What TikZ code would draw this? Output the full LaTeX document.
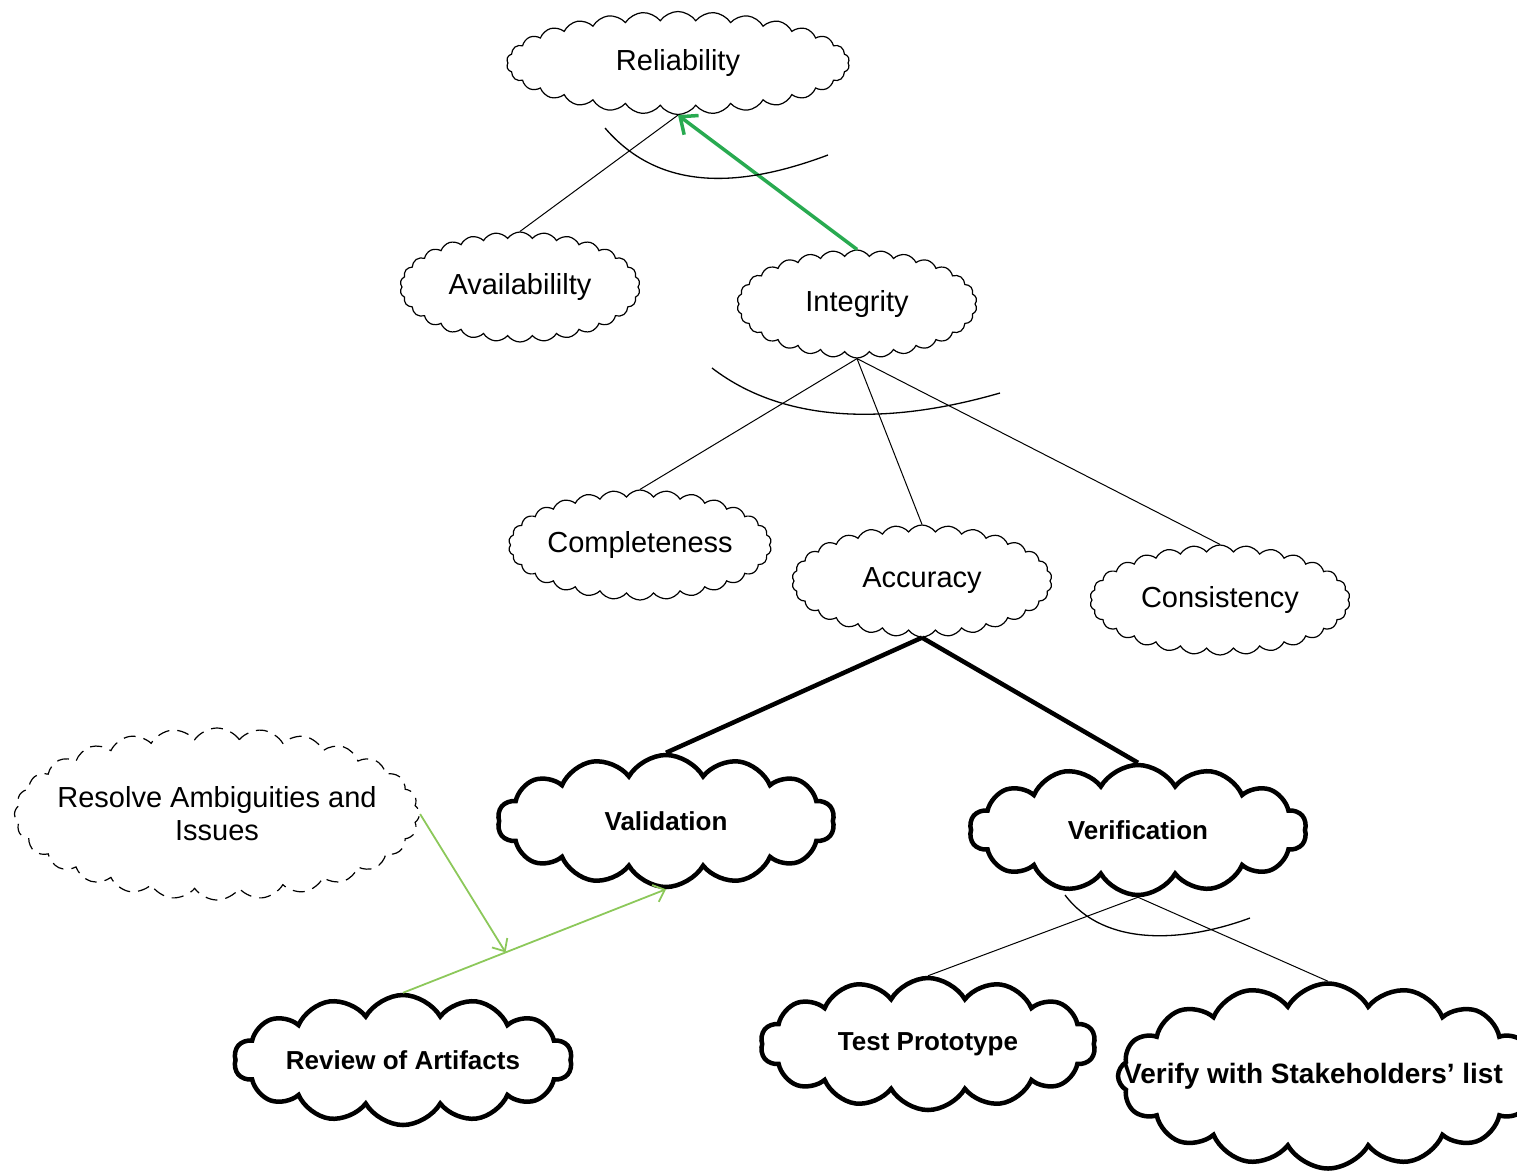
\documentclass[tikz,border=0pt]{standalone}
\usepackage{fontspec}
\setmainfont{Liberation Sans}
\usetikzlibrary{shapes.symbols,arrows.meta}

\definecolor{arrowgreen}{RGB}{40,170,80}
\definecolor{palegreen}{RGB}{140,200,90}

\begin{document}
\begin{tikzpicture}[x=1pt,y=-1pt,
  thincloud/.style={cloud, draw, cloud puffs=30, cloud puff arc=110, line width=1.2pt,
    cloud ignores aspect, inner sep=0pt, font=\fontsize{29}{33}\selectfont},
  boldcloud/.style={cloud, draw, cloud puffs=14, cloud puff arc=120, line width=4.5pt,
    cloud ignores aspect, inner sep=0pt, font=\bfseries\fontsize{26}{30}\selectfont},
  link/.style={draw, line width=1pt},
  andarc/.style={draw, line width=1.3pt}]
\useasboundingbox (0,0) rectangle (1517,1170);

% goal tree
\node[thincloud, minimum width=343, minimum height=103] (rel) at (678,63) {Reliability};
\node[thincloud, minimum width=240, minimum height=110] (avail) at (520,287) {Availabililty};
\node[thincloud, minimum width=240, minimum height=108] (integ) at (857,304) {Integrity};
\node[thincloud, minimum width=260, minimum height=110] (compl) at (640,545) {Completeness};
\node[thincloud, minimum width=260, minimum height=112] (accur) at (922,581) {Accuracy};
\node[thincloud, minimum width=260, minimum height=110] (consist) at (1220,600) {Consistency};

\node[boldcloud, minimum width=337, minimum height=132] (valid) at (666,821) {Validation};
\node[boldcloud, minimum width=337, minimum height=130] (verif) at (1138,830) {Verification};
\node[boldcloud, minimum width=338, minimum height=130] (review) at (403,1060) {Review of Artifacts};
\node[boldcloud, minimum width=335, minimum height=132] (testproto) at (928,1044) {Test Prototype};
\node[boldcloud, cloud puffs=16, minimum width=420, minimum height=185,
  font=\bfseries\fontsize{28}{32}\selectfont] (stake) at (1328,1076)
  {\makebox[250pt]{\hspace*{-30pt}Verify with Stakeholders' list}};

\node[thincloud, cloud puffs=28, dashed, dash pattern=on 12pt off 8pt, minimum width=405, minimum height=172,
  align=center] (resolve) at (217,814) {\makebox[260pt]{Resolve Ambiguities and}\\Issues};

% links
\draw[link] (avail.north) -- (rel.south);
\draw[-{Straight Barb[length=14pt,width=24pt]}, arrowgreen, line width=3.5pt] (integ.north) -- (rel.south);
\draw[andarc] (605,128) .. controls (660,192) and (740,188) .. (828,155);

\draw[link] (integ.south) -- (compl.north);
\draw[link] (integ.south) -- (accur.north);
\draw[link] (integ.south) -- (consist.north);
\draw[andarc] (712,368) .. controls (790,428) and (900,422) .. (1000,393);

\draw[line width=4.5pt] (accur.south) -- (valid.north);
\draw[line width=4.5pt] (accur.south) -- (verif.north);

\draw[link] (verif.south) -- (testproto.north);
\draw[link] (verif.south) -- (stake.north);
\draw[andarc] (1065,895) .. controls (1105,948) and (1185,942) .. (1250,918);

\draw[-{Straight Barb[length=10pt,width=18pt]}, palegreen, line width=1.8pt]
  (review.north) -- coordinate[pos=0.39] (revmid) (valid.south);
\draw[-{Straight Barb[length=10pt,width=18pt]}, palegreen, line width=1.8pt] (resolve.east) -- (revmid);
\end{tikzpicture}
\end{document}
